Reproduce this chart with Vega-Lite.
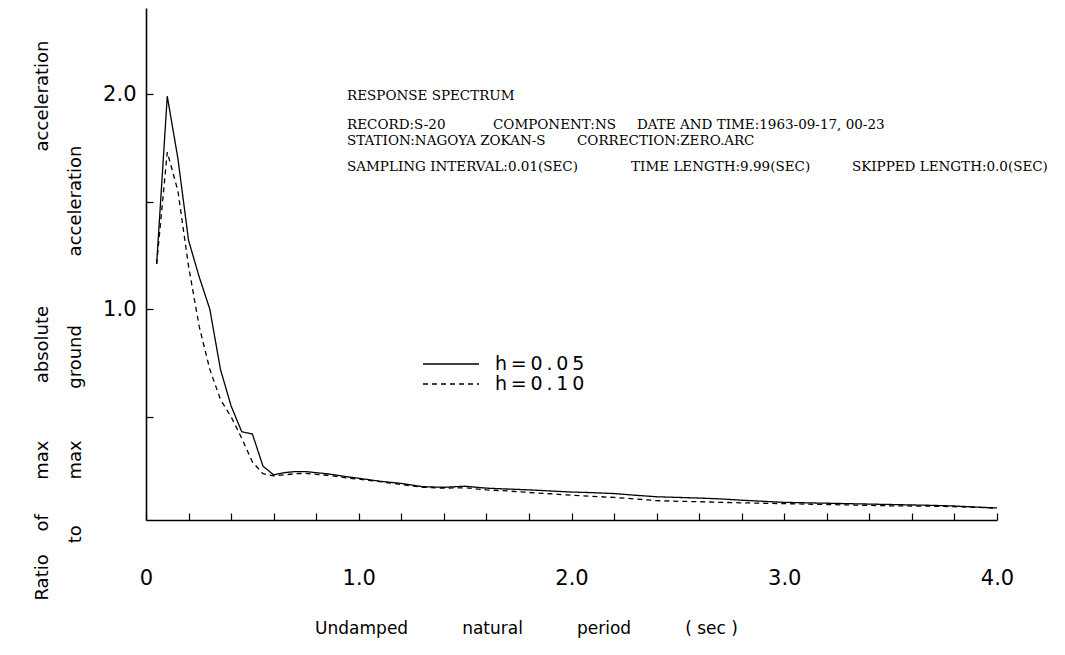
{
  "$schema": "https://vega.github.io/schema/vega-lite/v6.json",
  "autosize": {"type": "none"},
  "padding": {"left": 146, "top": 8, "right": 68, "bottom": 135},
  "width": 851,
  "height": 512,
  "background": "white",
  "config": {
    "view": {"stroke": null},
    "axis": {"grid": false, "domainColor": "black", "tickColor": "black", "labelColor": "black", "titleColor": "black", "labelFont": "DejaVu Sans", "titleFont": "DejaVu Sans", "titleFontWeight": "normal"},
    "legend": {"labelFont": "DejaVu Sans"}
  },
  "datasets": {
    "spectrum": [
      {"period": 0.05, "ratio": 1.21, "h": "h=0.05"},
      {"period": 0.10, "ratio": 1.99, "h": "h=0.05"},
      {"period": 0.15, "ratio": 1.70, "h": "h=0.05"},
      {"period": 0.20, "ratio": 1.32, "h": "h=0.05"},
      {"period": 0.25, "ratio": 1.15, "h": "h=0.05"},
      {"period": 0.30, "ratio": 1.00, "h": "h=0.05"},
      {"period": 0.35, "ratio": 0.72, "h": "h=0.05"},
      {"period": 0.40, "ratio": 0.55, "h": "h=0.05"},
      {"period": 0.45, "ratio": 0.43, "h": "h=0.05"},
      {"period": 0.50, "ratio": 0.42, "h": "h=0.05"},
      {"period": 0.55, "ratio": 0.27, "h": "h=0.05"},
      {"period": 0.60, "ratio": 0.23, "h": "h=0.05"},
      {"period": 0.65, "ratio": 0.24, "h": "h=0.05"},
      {"period": 0.70, "ratio": 0.245, "h": "h=0.05"},
      {"period": 0.75, "ratio": 0.245, "h": "h=0.05"},
      {"period": 0.80, "ratio": 0.24, "h": "h=0.05"},
      {"period": 0.85, "ratio": 0.235, "h": "h=0.05"},
      {"period": 0.90, "ratio": 0.228, "h": "h=0.05"},
      {"period": 0.95, "ratio": 0.22, "h": "h=0.05"},
      {"period": 1.0, "ratio": 0.214, "h": "h=0.05"},
      {"period": 1.1, "ratio": 0.20, "h": "h=0.05"},
      {"period": 1.2, "ratio": 0.19, "h": "h=0.05"},
      {"period": 1.3, "ratio": 0.175, "h": "h=0.05"},
      {"period": 1.4, "ratio": 0.172, "h": "h=0.05"},
      {"period": 1.5, "ratio": 0.177, "h": "h=0.05"},
      {"period": 1.6, "ratio": 0.168, "h": "h=0.05"},
      {"period": 1.7, "ratio": 0.164, "h": "h=0.05"},
      {"period": 1.8, "ratio": 0.16, "h": "h=0.05"},
      {"period": 1.9, "ratio": 0.155, "h": "h=0.05"},
      {"period": 2.0, "ratio": 0.15, "h": "h=0.05"},
      {"period": 2.1, "ratio": 0.147, "h": "h=0.05"},
      {"period": 2.2, "ratio": 0.143, "h": "h=0.05"},
      {"period": 2.3, "ratio": 0.135, "h": "h=0.05"},
      {"period": 2.4, "ratio": 0.128, "h": "h=0.05"},
      {"period": 2.5, "ratio": 0.125, "h": "h=0.05"},
      {"period": 2.6, "ratio": 0.122, "h": "h=0.05"},
      {"period": 2.7, "ratio": 0.118, "h": "h=0.05"},
      {"period": 2.8, "ratio": 0.112, "h": "h=0.05"},
      {"period": 2.9, "ratio": 0.107, "h": "h=0.05"},
      {"period": 3.0, "ratio": 0.102, "h": "h=0.05"},
      {"period": 3.1, "ratio": 0.100, "h": "h=0.05"},
      {"period": 3.2, "ratio": 0.098, "h": "h=0.05"},
      {"period": 3.3, "ratio": 0.096, "h": "h=0.05"},
      {"period": 3.4, "ratio": 0.094, "h": "h=0.05"},
      {"period": 3.5, "ratio": 0.092, "h": "h=0.05"},
      {"period": 3.6, "ratio": 0.090, "h": "h=0.05"},
      {"period": 3.7, "ratio": 0.088, "h": "h=0.05"},
      {"period": 3.8, "ratio": 0.085, "h": "h=0.05"},
      {"period": 3.9, "ratio": 0.080, "h": "h=0.05"},
      {"period": 4.0, "ratio": 0.076, "h": "h=0.05"},
      {"period": 0.05, "ratio": 1.21, "h": "h=0.10"},
      {"period": 0.10, "ratio": 1.73, "h": "h=0.10"},
      {"period": 0.15, "ratio": 1.55, "h": "h=0.10"},
      {"period": 0.20, "ratio": 1.20, "h": "h=0.10"},
      {"period": 0.25, "ratio": 0.92, "h": "h=0.10"},
      {"period": 0.30, "ratio": 0.72, "h": "h=0.10"},
      {"period": 0.35, "ratio": 0.58, "h": "h=0.10"},
      {"period": 0.40, "ratio": 0.50, "h": "h=0.10"},
      {"period": 0.45, "ratio": 0.40, "h": "h=0.10"},
      {"period": 0.50, "ratio": 0.29, "h": "h=0.10"},
      {"period": 0.55, "ratio": 0.235, "h": "h=0.10"},
      {"period": 0.60, "ratio": 0.225, "h": "h=0.10"},
      {"period": 0.65, "ratio": 0.23, "h": "h=0.10"},
      {"period": 0.70, "ratio": 0.235, "h": "h=0.10"},
      {"period": 0.75, "ratio": 0.237, "h": "h=0.10"},
      {"period": 0.80, "ratio": 0.232, "h": "h=0.10"},
      {"period": 0.85, "ratio": 0.228, "h": "h=0.10"},
      {"period": 0.90, "ratio": 0.222, "h": "h=0.10"},
      {"period": 0.95, "ratio": 0.215, "h": "h=0.10"},
      {"period": 1.0, "ratio": 0.21, "h": "h=0.10"},
      {"period": 1.1, "ratio": 0.198, "h": "h=0.10"},
      {"period": 1.2, "ratio": 0.185, "h": "h=0.10"},
      {"period": 1.3, "ratio": 0.172, "h": "h=0.10"},
      {"period": 1.4, "ratio": 0.168, "h": "h=0.10"},
      {"period": 1.5, "ratio": 0.17, "h": "h=0.10"},
      {"period": 1.6, "ratio": 0.16, "h": "h=0.10"},
      {"period": 1.7, "ratio": 0.155, "h": "h=0.10"},
      {"period": 1.8, "ratio": 0.148, "h": "h=0.10"},
      {"period": 1.9, "ratio": 0.142, "h": "h=0.10"},
      {"period": 2.0, "ratio": 0.135, "h": "h=0.10"},
      {"period": 2.1, "ratio": 0.13, "h": "h=0.10"},
      {"period": 2.2, "ratio": 0.125, "h": "h=0.10"},
      {"period": 2.3, "ratio": 0.118, "h": "h=0.10"},
      {"period": 2.4, "ratio": 0.11, "h": "h=0.10"},
      {"period": 2.5, "ratio": 0.107, "h": "h=0.10"},
      {"period": 2.6, "ratio": 0.105, "h": "h=0.10"},
      {"period": 2.7, "ratio": 0.102, "h": "h=0.10"},
      {"period": 2.8, "ratio": 0.100, "h": "h=0.10"},
      {"period": 2.9, "ratio": 0.098, "h": "h=0.10"},
      {"period": 3.0, "ratio": 0.096, "h": "h=0.10"},
      {"period": 3.1, "ratio": 0.094, "h": "h=0.10"},
      {"period": 3.2, "ratio": 0.092, "h": "h=0.10"},
      {"period": 3.3, "ratio": 0.090, "h": "h=0.10"},
      {"period": 3.4, "ratio": 0.088, "h": "h=0.10"},
      {"period": 3.5, "ratio": 0.086, "h": "h=0.10"},
      {"period": 3.6, "ratio": 0.085, "h": "h=0.10"},
      {"period": 3.7, "ratio": 0.084, "h": "h=0.10"},
      {"period": 3.8, "ratio": 0.082, "h": "h=0.10"},
      {"period": 3.9, "ratio": 0.079, "h": "h=0.10"},
      {"period": 4.0, "ratio": 0.075, "h": "h=0.10"}
    ],
    "notes": [
      {"period": 0.945, "ratio": 1.992, "text": "RESPONSE SPECTRUM"},
      {"period": 0.945, "ratio": 1.857, "text": "RECORD:S-20"},
      {"period": 1.631, "ratio": 1.857, "text": "COMPONENT:NS"},
      {"period": 2.308, "ratio": 1.857, "text": "DATE AND TIME:1963-09-17, 00-23"},
      {"period": 0.945, "ratio": 1.783, "text": "STATION:NAGOYA ZOKAN-S"},
      {"period": 2.026, "ratio": 1.783, "text": "CORRECTION:ZERO.ARC"},
      {"period": 0.945, "ratio": 1.662, "text": "SAMPLING INTERVAL:0.01(SEC)"},
      {"period": 2.28, "ratio": 1.662, "text": "TIME LENGTH:9.99(SEC)"},
      {"period": 3.318, "ratio": 1.662, "text": "SKIPPED LENGTH:0.0(SEC)"}
    ]
  },
  "layer": [
    {
      "data": {"name": "spectrum"},
      "mark": {"type": "line", "color": "black", "strokeWidth": 1.3},
      "encoding": {
        "x": {
          "field": "period", "type": "quantitative",
          "scale": {"domain": [0, 4], "nice": false, "zero": false},
          "axis": {
            "values": [0,0.1,0.2,0.3,0.4,0.5,0.6,0.7,0.8,0.9,1,1.1,1.2,1.3,1.4,1.5,1.6,1.7,1.8,1.9,2,2.1,2.2,2.3,2.4,2.5,2.6,2.7,2.8,2.9,3,3.1,3.2,3.3,3.4,3.5,3.6,3.7,3.8,3.9,4],
            "labelExpr": "abs(datum.value - round(datum.value)) < 0.001 ? (datum.value == 0 ? '0' : format(datum.value, '.1f')) : ''",
            "tickSize": -7, "tickWidth": 1.2, "domainWidth": 1.6,
            "labelPadding": 54, "labelFontSize": 21, "labelFlush": false, "labelOverlap": false,
            "title": "Undamped\u00a0\u00a0\u00a0\u00a0\u00a0\u00a0\u00a0\u00a0\u00a0\u00a0natural\u00a0\u00a0\u00a0\u00a0\u00a0\u00a0\u00a0\u00a0\u00a0\u00a0period\u00a0\u00a0\u00a0\u00a0\u00a0\u00a0\u00a0\u00a0\u00a0\u00a0(\u00a0sec\u00a0)",
            "titleFontSize": 17, "titleX": 380, "titleY": 108, "titleAnchor": null, "titleAlign": "center", "titleBaseline": "middle"
          }
        },
        "y": {
          "field": "ratio", "type": "quantitative",
          "scale": {"domain": [0.02, 2.4], "nice": false, "zero": false},
          "axis": {
            "values": [0.5, 1, 1.5, 2],
            "labelExpr": "datum.value % 1 == 0 ? format(datum.value, '.1f') : ''",
            "tickSize": -7, "tickWidth": 1.2, "domainWidth": 1.6,
            "labelPadding": 17, "labelFontSize": 21, "labelOverlap": false,
            "title": ["Ratio\u00a0\u00a0\u00a0\u00a0of\u00a0\u00a0\u00a0\u00a0\u00a0\u00a0max\u00a0\u00a0\u00a0\u00a0\u00a0\u00a0\u00a0\u00a0\u00a0\u00a0absolute\u00a0\u00a0\u00a0\u00a0\u00a0\u00a0\u00a0\u00a0\u00a0\u00a0\u00a0\u00a0\u00a0\u00a0\u00a0\u00a0\u00a0\u00a0\u00a0\u00a0\u00a0\u00a0\u00a0\u00a0\u00a0\u00a0\u00a0acceleration", "\u200b\u00a0\u00a0\u00a0\u00a0\u00a0\u00a0\u00a0\u00a0\u00a0\u00a0to\u00a0\u00a0\u00a0\u00a0\u00a0\u00a0\u00a0\u00a0max\u00a0\u00a0\u00a0\u00a0\u00a0\u00a0\u00a0\u00a0\u00a0ground\u00a0\u00a0\u00a0\u00a0\u00a0\u00a0\u00a0\u00a0\u00a0\u00a0\u00a0\u00a0acceleration"],
            "titleFontSize": 18, "titleAngle": -90, "titleX": -104, "titleY": 592, "titleAlign": "left", "titleBaseline": "middle", "titleLineHeight": 33, "titleAnchor": null
          }
        },
        "strokeDash": {
          "field": "h", "type": "nominal",
          "scale": {"domain": ["h=0.05", "h=0.10"], "range": [[1, 0], [5, 4]]},
          "legend": {
            "title": null, "orient": "none", "legendX": 276, "legendY": 346,
            "symbolType": "stroke", "symbolSize": 3136, "symbolStrokeWidth": 1.3, "symbolStrokeColor": "black",
            "labelFontSize": 19, "labelOffset": 15, "rowPadding": 0, "clipHeight": 20, "labelColor": "black",
            "labelExpr": "join(split(datum.label, ''), '\u2009')"
          }
        }
      }
    },
    {
      "data": {"name": "notes"},
      "mark": {"type": "text", "font": "DejaVu Serif", "fontSize": 13.5, "align": "left", "baseline": "middle", "color": "black"},
      "encoding": {
        "x": {"field": "period", "type": "quantitative"},
        "y": {"field": "ratio", "type": "quantitative"},
        "text": {"field": "text"}
      }
    }
  ]
}
